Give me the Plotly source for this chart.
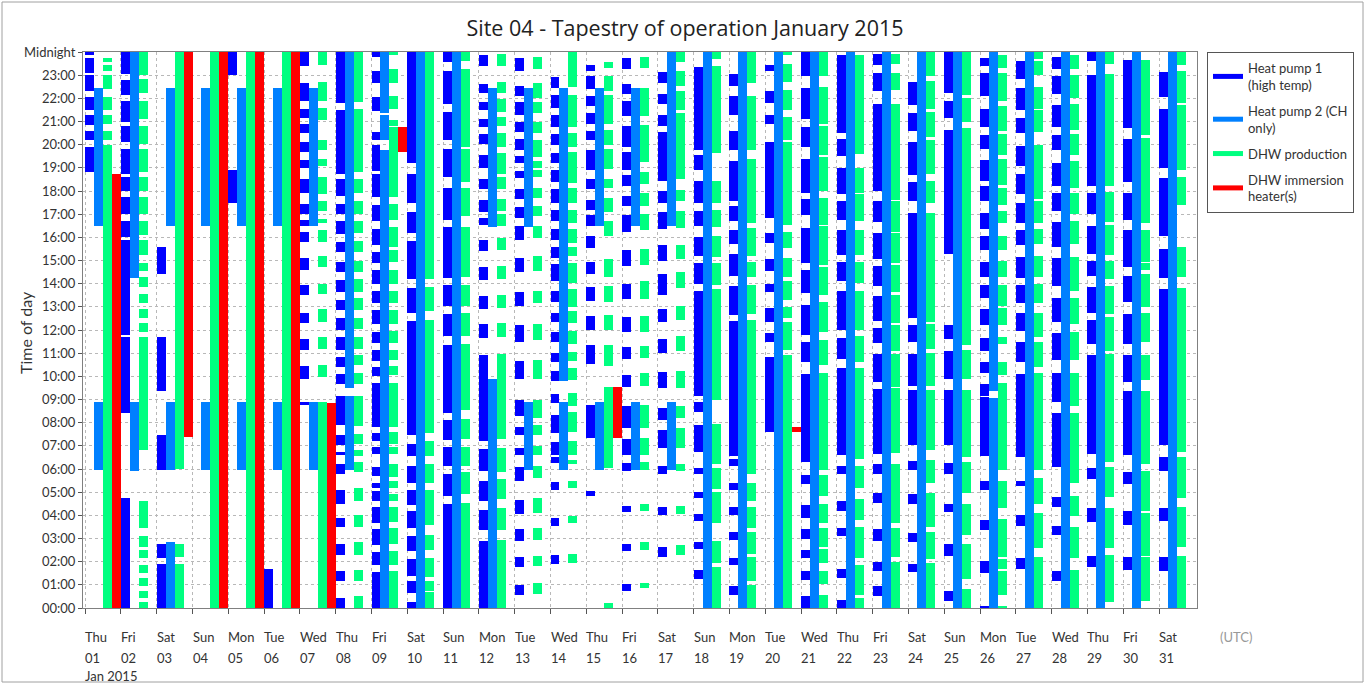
import plotly.graph_objects as go

# ---- operating periods per day (hours of the day, start/end) ----
days = list(range(1, 32))
weekdays = ["Thu", "Fri", "Sat", "Sun", "Mon", "Tue", "Wed"]
day_names = [weekdays[(d - 1) % 7] for d in days]
hour_ticks = list(range(25))
hour_labels = [f"{h:02d}:00" for h in range(24)] + ["Midnight"]

hp1_runs = [
    [[18.8, 19.9], [20.2, 20.6], [20.85, 21.3], [21.5, 22.05], [22.3, 23.0], [23.1, 23.76], [23.85, 24]],
    [[0, 4.75], [8.4, 11.7], [11.8, 15.9], [16.0, 16.7], [17.0, 17.75], [18.0, 18.6], [18.75, 19.8], [20.1, 20.8], [21.0, 21.9], [22.15, 22.8], [23.05, 24]],
    [[0, 1.9], [2.15, 2.75], [5.95, 7.45], [9.35, 11.7], [14.4, 15.6]],
    [],
    [[17.5, 18.9], [23.0, 24]],
    [[0, 1.7]],
    [[8.77, 8.88], [9.9, 10.45], [11.15, 11.6], [12.3, 12.75], [13.5, 13.95], [14.6, 15.1], [15.8, 16.25], [16.5, 16.75], [17.0, 17.45], [17.9, 18.5], [19.0, 19.35], [19.7, 20.1], [20.5, 20.9], [21.15, 21.55], [21.9, 22.65], [23.4, 24]],
    [[0, 0.45], [1.15, 1.6], [2.3, 2.75], [3.5, 3.9], [4.5, 5.1], [5.8, 6.2], [6.6, 6.75], [7.05, 7.45], [7.9, 9.15], [9.65, 10.1], [10.4, 10.85], [11.15, 11.7], [12.0, 12.5], [12.85, 13.3], [13.65, 14.15], [14.5, 14.95], [15.35, 15.8], [16.15, 16.7], [17.0, 17.45], [17.8, 18.5], [18.75, 21.5], [21.8, 24]],
    [[0, 1.55], [1.85, 2.4], [2.7, 3.4], [3.65, 4.35], [4.6, 5.05], [5.2, 5.4], [5.7, 6.1], [6.65, 6.95], [7.2, 7.55], [7.8, 9.7], [10.0, 10.4], [10.65, 11.15], [11.45, 11.9], [12.25, 12.85], [13.15, 13.7], [14.0, 14.6], [14.9, 15.35], [15.65, 16.35], [16.7, 17.4], [17.75, 18.75], [18.85, 20.0], [20.2, 20.55], [21.45, 22.05], [22.65, 23.2], [23.8, 24]],
    [[0, 0.25], [0.65, 1.15], [1.4, 2.1], [2.45, 3.1], [3.45, 4.2], [4.45, 5.1], [5.4, 6.15], [6.55, 7.1], [7.45, 12.4], [12.75, 13.8], [14.2, 15.85], [16.2, 17.1], [17.5, 18.75], [19.2, 24]],
    [[0, 4.5], [4.85, 5.8], [6.15, 6.95], [7.25, 8.1], [8.4, 11.35], [11.75, 12.7], [13.05, 13.95], [14.25, 16.45], [16.75, 18.15], [18.6, 19.8], [20.2, 21.4], [21.75, 23.2], [23.55, 24]],
    [[0, 2.9], [3.35, 4.25], [4.6, 5.5], [5.9, 6.85], [7.2, 10.9], [11.65, 12.25], [12.9, 13.45], [14.15, 14.7], [15.4, 15.9], [16.55, 16.85], [17.1, 17.6], [18.1, 18.5], [19.0, 19.55], [20.05, 20.45], [20.75, 21.1], [21.5, 21.85], [22.25, 22.6], [23.4, 23.85]],
    [[0.55, 1.0], [1.75, 2.2], [2.9, 3.4], [4.05, 4.65], [5.5, 6.1], [6.6, 6.9], [7.45, 7.8], [8.3, 9.0], [9.9, 10.65], [11.5, 12.2], [13.05, 13.65], [14.5, 15.1], [15.9, 16.5], [16.85, 17.3], [17.65, 18.1], [18.55, 18.85], [19.2, 19.5], [19.75, 20.25], [20.55, 21.0], [21.3, 21.85], [22.1, 22.55], [23.2, 23.75]],
    [[1.9, 2.3], [3.55, 3.9], [5.1, 5.45], [6.25, 6.5], [6.6, 7.15], [7.55, 8.35], [8.85, 9.25], [9.8, 10.25], [10.6, 11.0], [11.5, 11.9], [12.35, 12.75], [13.2, 13.7], [14.1, 14.85], [15.1, 15.6], [15.9, 16.35], [16.7, 17.2], [17.5, 18.1], [18.4, 18.9], [19.2, 19.65], [20.0, 20.45], [20.75, 21.3], [21.6, 22.15], [22.45, 22.9]],
    [[4.85, 5.05], [7.35, 8.75], [10.55, 11.35], [12.0, 12.6], [13.25, 13.85], [14.4, 14.95], [15.55, 16.05], [16.5, 16.95], [17.2, 17.6], [18.1, 18.5], [18.9, 19.75], [20.2, 20.6], [20.9, 21.35], [21.65, 22.1], [22.4, 22.95], [23.2, 23.45]],
    [[0.75, 1.05], [2.45, 2.75], [4.15, 4.4], [5.9, 6.25], [6.6, 7.3], [7.75, 8.7], [9.55, 10.05], [10.75, 11.25], [11.9, 12.55], [13.35, 14.0], [14.75, 15.45], [16.25, 16.95], [17.35, 17.8], [18.2, 18.7], [18.9, 19.7], [19.9, 20.8], [21.25, 21.9], [22.2, 22.6], [23.25, 23.75]],
    [[2.2, 2.65], [4.0, 4.35], [5.8, 6.15], [6.9, 7.7], [8.1, 8.65], [9.5, 10.2], [11.0, 11.6], [12.35, 12.9], [13.5, 14.4], [15.0, 15.65], [16.35, 17.1], [17.5, 18.0], [18.45, 20.55], [20.8, 21.3], [21.75, 22.2], [22.65, 23.15]],
    [[1.25, 1.65], [2.55, 2.85], [3.75, 4.05], [4.75, 5.0], [5.8, 6.05], [6.75, 7.9], [8.45, 8.9], [9.15, 13.7], [14.0, 14.9], [15.2, 16.0], [16.5, 17.15], [17.5, 18.45], [18.9, 19.55], [19.75, 23.35]],
    [[0.55, 0.95], [1.85, 2.15], [2.95, 3.3], [4.0, 4.35], [5.1, 5.4], [6.15, 6.45], [6.55, 12.4], [12.65, 13.9], [14.35, 15.3], [15.7, 16.3], [16.7, 17.35], [17.55, 19.3], [19.75, 20.6], [21.3, 22.1], [22.55, 23.05]],
    [[7.6, 10.85], [11.5, 11.85], [12.35, 12.95], [13.65, 14.0], [14.55, 15.05], [15.75, 16.2], [16.85, 20.1], [20.9, 21.3], [21.8, 22.3], [23.2, 23.45]],
    [[0, 0.5], [1.2, 1.6], [2.15, 2.5], [3.0, 3.4], [3.9, 4.45], [5.35, 5.75], [6.3, 10.1], [10.6, 11.5], [11.8, 13.1], [13.6, 14.6], [14.9, 16.4], [16.95, 17.65], [17.9, 19.4], [19.9, 20.75], [21.1, 22.45], [22.95, 24]],
    [[0, 0.35], [1.3, 1.7], [3.1, 3.45], [4.2, 4.6], [5.8, 6.15], [6.6, 10.35], [10.75, 11.65], [12.0, 13.7], [14.1, 14.95], [15.25, 16.3], [16.75, 17.55], [17.85, 19.0], [19.5, 20.25], [20.5, 23.85]],
    [[0.5, 0.95], [1.6, 2.0], [2.9, 3.4], [4.55, 4.95], [5.8, 6.2], [6.65, 9.45], [9.75, 10.95], [11.45, 12.1], [12.4, 13.45], [13.9, 14.75], [15.05, 16.2], [16.65, 17.55], [18.0, 21.75], [22.3, 23.1], [23.45, 23.9]],
    [[1.55, 1.9], [2.85, 3.25], [4.5, 4.9], [5.95, 6.35], [7.05, 9.4], [9.6, 10.95], [11.5, 12.2], [12.5, 17.05], [17.55, 18.4], [18.7, 20.1], [20.6, 21.35], [21.7, 22.7]],
    [[0.3, 0.75], [2.25, 2.75], [4.15, 4.5], [5.8, 6.25], [7.05, 9.4], [9.9, 11.1], [11.6, 12.2], [15.3, 20.65], [21.15, 21.9], [22.25, 24]],
    [[0, 0.08], [1.5, 2.05], [3.35, 3.8], [5.1, 5.5], [6.55, 9.1], [9.15, 9.65], [10.15, 10.6], [11.1, 11.65], [12.2, 12.9], [13.4, 13.95], [14.3, 14.95], [15.45, 16.05], [16.35, 17.05], [17.55, 18.2], [18.45, 19.35], [19.8, 20.4], [20.75, 21.55], [22.1, 23.1], [23.4, 23.75]],
    [[1.7, 2.15], [3.55, 4.0], [5.25, 5.5], [6.5, 10.1], [10.6, 11.5], [11.95, 12.75], [13.15, 13.95], [14.25, 15.15], [15.65, 16.3], [16.6, 17.5], [17.85, 18.75], [19.1, 19.95], [20.5, 21.15], [21.5, 22.45], [22.85, 23.6]],
    [[1.15, 1.6], [3.15, 3.55], [4.35, 4.8], [6.1, 8.4], [8.9, 10.15], [10.7, 11.85], [12.35, 13.4], [13.9, 15.1], [15.6, 16.65], [17.15, 17.9], [18.2, 19.2], [19.75, 20.4], [20.75, 21.7], [22.2, 22.95], [23.25, 23.8]],
    [[1.75, 2.25], [3.7, 4.3], [5.55, 6.05], [6.65, 10.9], [11.4, 12.45], [12.75, 13.85], [14.35, 15.0], [15.3, 16.5], [17.0, 17.9], [18.2, 23.0], [23.6, 24]],
    [[1.65, 2.2], [3.6, 4.2], [5.35, 5.85], [6.6, 9.35], [9.75, 10.9], [11.4, 12.7], [13.2, 14.35], [14.7, 16.3], [16.75, 17.9], [18.4, 20.25], [20.7, 23.65]],
    [[1.6, 2.2], [3.75, 4.3], [5.9, 6.5], [7.05, 13.75], [14.25, 15.5], [16.05, 18.55], [19.0, 21.55], [22.05, 23.15]],
]

hp2_runs = [
    [[5.97, 8.9], [16.5, 22.45]],
    [[5.93, 8.9], [14.25, 24]],
    [[0, 2.85], [5.97, 8.9], [16.5, 22.45]],
    [[5.97, 8.9], [16.5, 22.45]],
    [[5.97, 8.9], [16.5, 22.45]],
    [[5.97, 8.9], [16.5, 22.45]],
    [[5.97, 8.9], [16.5, 22.45]],
    [[5.97, 9.15], [9.5, 24]],
    [[0, 19.75], [20.2, 21.3], [21.35, 24]],
    [[0, 24]],
    [[0, 24]],
    [[0, 9.9], [16.45, 22.45]],
    [[5.95, 8.9], [16.45, 22.45]],
    [[5.95, 8.9], [9.8, 22.45]],
    [[5.97, 8.9], [16.5, 22.45]],
    [[5.97, 8.9], [16.5, 22.45]],
    [[5.97, 8.9], [16.5, 24]],
    [[0, 24]],
    [[0, 24]],
    [[0, 24]],
    [[0, 24]],
    [[0, 24]],
    [[0, 24]],
    [[0, 24]],
    [[0, 24]],
    [[0, 9.05], [9.35, 24]],
    [[0, 24]],
    [[0, 24]],
    [[0, 24]],
    [[0, 24]],
    [[0, 24]],
]

dhw_runs = [
    [[0, 19.97], [20.2, 20.6], [20.9, 21.3], [21.5, 22.05], [22.4, 23.0], [23.2, 23.45], [23.55, 23.76]],
    [[0, 0.25], [0.45, 0.75], [0.95, 1.3], [1.5, 1.85], [2.15, 2.5], [2.65, 3.1], [3.45, 4.6], [6.8, 11.7], [11.9, 12.3], [12.5, 12.9], [13.15, 13.55], [13.85, 14.3], [14.55, 14.9], [15.25, 15.9], [16.1, 16.7], [17.0, 17.75], [18.0, 18.6], [18.8, 19.8], [20.05, 20.8], [21.1, 21.9], [22.25, 22.85], [23.0, 24]],
    [[0, 1.9], [2.2, 2.75], [6.0, 24]],
    [[0, 24]],
    [[0, 24]],
    [[0, 24]],
    [[0, 8.9], [9.95, 10.5], [11.2, 11.7], [12.35, 12.9], [13.55, 14.0], [14.7, 15.2], [15.8, 16.3], [16.6, 16.8], [17.15, 17.55], [17.85, 18.6], [19.1, 19.4], [19.75, 20.2], [21.05, 21.6], [21.9, 22.7], [23.45, 24]],
    [[0, 0.5], [1.15, 1.65], [2.3, 2.85], [3.5, 4.0], [4.6, 5.2], [5.85, 6.3], [6.55, 6.8], [7.1, 7.5], [7.85, 9.15], [9.65, 10.15], [10.5, 10.9], [11.2, 11.7], [12.05, 12.5], [12.85, 13.4], [13.65, 14.2], [14.5, 15.0], [15.35, 15.85], [16.2, 16.7], [17.0, 17.55], [17.9, 18.5], [18.8, 21.55], [21.85, 24]],
    [[0, 1.6], [1.85, 2.45], [2.75, 3.45], [3.7, 4.35], [4.6, 4.9], [5.2, 5.5], [5.65, 6.2], [6.65, 6.95], [7.1, 7.6], [7.8, 9.7], [10.05, 10.45], [10.7, 11.15], [11.45, 11.95], [12.25, 12.85], [13.15, 13.7], [14.0, 14.6], [14.95, 15.45], [15.6, 16.45], [16.75, 17.45], [17.75, 20.75], [20.8, 21.05], [21.55, 22.1], [22.65, 23.25], [23.85, 24]],
    [[0, 0.7], [0.75, 1.15], [1.35, 2.15], [2.5, 3.15], [3.6, 5.1], [5.4, 6.2], [6.55, 7.2], [7.55, 12.45], [12.8, 13.85], [14.2, 24]],
    [[0, 4.55], [4.9, 5.85], [6.15, 6.95], [7.3, 8.15], [8.55, 11.4], [11.75, 12.75], [13.05, 13.95], [14.3, 16.45], [16.9, 18.15], [18.4, 19.8], [19.9, 23.25], [23.6, 24]],
    [[0, 2.95], [3.35, 4.3], [4.7, 5.55], [5.85, 6.9], [7.3, 10.95], [11.7, 12.3], [12.95, 13.5], [14.2, 14.75], [15.45, 15.95], [16.5, 17.0], [17.15, 17.65], [18.1, 18.6], [18.75, 19.65], [19.9, 20.5], [20.8, 21.2], [21.4, 21.95], [22.25, 22.7], [23.4, 23.9]],
    [[0.6, 1.1], [1.8, 2.25], [2.95, 3.45], [4.1, 4.75], [5.6, 6.15], [6.6, 7.0], [7.45, 7.9], [8.2, 9.0], [9.9, 10.7], [11.55, 12.25], [13.15, 13.7], [14.55, 15.2], [15.95, 16.5], [16.9, 17.35], [17.7, 18.15], [18.6, 18.9], [19.0, 19.3], [19.45, 20.2], [20.5, 21.0], [21.35, 21.85], [22.0, 22.65], [23.25, 23.8]],
    [[1.95, 2.35], [3.65, 3.95], [5.2, 5.5], [6.2, 6.4], [6.6, 7.2], [7.6, 8.45], [8.7, 9.3], [9.85, 10.35], [10.65, 11.05], [11.4, 11.95], [12.3, 12.8], [13.0, 13.75], [14.05, 14.9], [15.2, 15.6], [15.75, 16.35], [16.6, 17.2], [17.5, 18.15], [18.35, 19.7], [19.9, 20.5], [20.75, 22.15], [22.5, 24]],
    [[0, 0.2], [6.05, 9.55], [10.45, 11.35], [12.0, 12.65], [13.2, 13.9], [14.3, 15.05], [16.05, 16.7], [17.1, 17.7], [18.15, 18.5], [18.95, 19.8], [20.0, 20.65], [20.9, 22.15], [22.3, 22.95], [23.3, 23.55]],
    [[0.85, 1.1], [2.5, 2.85], [4.2, 4.5], [5.95, 6.3], [6.6, 7.35], [7.75, 8.75], [9.6, 10.15], [10.8, 11.3], [11.9, 12.6], [13.35, 14.1], [14.8, 15.5], [16.3, 17.0], [17.35, 17.9], [18.3, 18.8], [19.25, 20.85], [21.25, 22.45], [23.3, 23.8]],
    [[2.3, 2.7], [4.05, 4.4], [5.9, 6.2], [6.9, 7.75], [8.2, 8.7], [9.5, 10.25], [11.1, 11.75], [12.45, 13.05], [13.8, 14.5], [15.05, 15.65], [16.4, 17.15], [17.55, 18.05], [18.5, 21.35], [21.5, 22.3], [22.55, 23.2], [23.55, 24]],
    [[0, 1.75], [1.95, 2.9], [3.65, 5.0], [5.15, 6.05], [6.2, 7.95], [9.0, 13.75], [13.95, 14.9], [15.15, 16.05], [16.45, 17.2], [17.5, 18.45], [19.65, 23.4], [23.7, 24]],
    [[0, 1.0], [1.15, 2.2], [2.35, 3.3], [3.45, 4.35], [4.6, 5.4], [5.8, 12.45], [12.7, 13.95], [14.3, 14.95], [15.2, 16.4], [16.6, 19.4], [19.75, 22.1], [22.65, 24]],
    [[0, 10.9], [11.15, 12.35], [12.5, 13.0], [13.3, 14.1], [14.3, 15.1], [15.55, 16.25], [16.55, 20.1], [20.2, 21.2], [21.5, 22.35], [22.7, 23.5], [23.85, 24]],
    [[0, 0.55], [1.05, 1.6], [1.95, 2.55], [2.65, 3.45], [3.65, 4.5], [4.85, 5.75], [5.95, 10.15], [10.5, 11.55], [11.9, 13.2], [13.5, 14.7], [14.8, 16.5], [16.55, 17.7], [18.0, 19.45], [19.55, 20.8], [20.9, 22.5], [22.95, 24]],
    [[0, 0.45], [0.55, 1.85], [2.15, 3.5], [3.8, 4.7], [5.2, 6.15], [6.45, 10.35], [10.6, 11.75], [12.0, 13.7], [14.05, 14.95], [15.25, 16.3], [16.7, 17.85], [17.9, 19.0], [19.6, 23.85]],
    [[0, 2.0], [2.2, 3.45], [3.65, 6.2], [6.7, 9.5], [9.55, 10.95], [11.1, 12.2], [12.3, 13.5], [13.65, 14.8], [14.9, 16.2], [16.25, 17.55], [17.6, 21.75], [22.35, 23.1], [23.5, 23.9]],
    [[0, 1.95], [2.1, 3.3], [3.5, 4.95], [5.4, 6.4], [6.8, 9.4], [9.6, 11.0], [11.2, 12.25], [12.35, 17.05], [17.5, 18.45], [18.75, 20.2], [20.35, 21.4], [21.55, 22.75], [22.95, 24]],
    [[0, 0.8], [1.25, 2.75], [3.15, 4.5], [4.95, 6.3], [6.5, 9.4], [9.9, 11.15], [11.35, 20.7], [21.0, 22.0], [22.15, 24]],
    [[0, 0.08], [0.55, 1.6], [1.7, 2.1], [2.2, 3.85], [4.3, 5.5], [5.95, 9.7], [10.05, 10.6], [11.4, 11.7], [12.2, 12.95], [13.05, 13.95], [14.3, 15.0], [15.45, 16.05], [16.6, 17.15], [17.4, 18.15], [18.25, 19.4], [19.55, 20.45], [20.6, 21.65], [21.9, 23.1], [23.3, 23.85]],
    [[0, 2.2], [2.6, 4.1], [4.5, 5.6], [5.95, 10.15], [10.4, 11.5], [11.7, 12.75], [13.15, 14.0], [14.3, 15.2], [15.7, 16.35], [16.6, 17.55], [17.65, 20.0], [20.55, 21.5], [21.55, 22.5], [23.0, 23.6], [23.7, 24]],
    [[0, 1.65], [2.15, 3.5], [3.95, 4.85], [5.4, 8.4], [8.7, 10.15], [10.7, 11.9], [12.25, 13.4], [13.7, 15.15], [15.7, 16.7], [17.0, 17.9], [18.15, 19.3], [19.55, 20.45], [20.65, 21.75], [22.0, 23.0], [23.25, 23.85]],
    [[0.25, 2.3], [2.6, 4.3], [4.8, 6.1], [6.3, 10.95], [11.1, 12.55], [12.7, 13.9], [14.2, 15.0], [15.25, 16.55], [16.65, 17.95], [18.2, 23.05], [23.5, 24]],
    [[0.3, 2.2], [2.25, 4.1], [4.2, 5.9], [6.2, 9.35], [9.85, 10.9], [11.5, 12.75], [13.0, 14.4], [14.6, 14.9], [14.95, 16.3], [16.6, 20.3], [20.4, 23.65]],
    [[0, 2.25], [2.65, 4.35], [4.75, 6.5], [6.75, 13.8], [14.3, 15.6], [17.4, 18.6], [18.9, 21.7], [21.8, 23.2], [23.45, 24]],
]

imm_runs = [[] for _ in days]
imm_runs[0] = [[0, 18.75]]
imm_runs[2] = [[7.4, 24]]
imm_runs[3] = [[0, 24]]
imm_runs[4] = [[0, 24]]
imm_runs[5] = [[0, 24]]
imm_runs[6] = [[0, 8.85]]
imm_runs[8] = [[19.7, 20.75]]
imm_runs[14] = [[7.35, 9.55]]
imm_runs[19] = [[7.6, 7.8]]

series = [
    ("Heat pump 1<br>(high temp)", "#0000ff", hp1_runs),
    ("Heat pump 2 (CH<br>only)", "#0080ff", hp2_runs),
    ("DHW production", "#00ff80", dhw_runs),
    ("DHW immersion<br>heater(s)", "#ff0000", imm_runs),
]

SLOT = 0.25  # each day is split into four equal columns, one per series

fig = go.Figure()
for k, (name, color, runs) in enumerate(series):
    xs, bases, lengths = [], [], []
    for d, day_runs in enumerate(runs):
        for start, end in day_runs:
            xs.append(d + k * SLOT + SLOT / 2)
            bases.append(start)
            lengths.append(end - start)
    fig.add_trace(go.Bar(
        x=xs, y=lengths, base=bases, width=SLOT,
        marker=dict(color=color, line=dict(width=0)),
        showlegend=False, hoverinfo="skip",
    ))

# legend entries drawn as short lines
for k, (name, color, _) in enumerate(series):
    fig.add_trace(go.Scatter(
        x=[None], y=[None], mode="lines", name=name,
        line=dict(color=color, width=5), legendgroup=f"g{k}",
    ))

FONT = "Lato"
TITLE_FONT = "Open Sans"

# pixel helpers for the plot frame (plot area 83..1197 x 52..608)
def px_x(px):
    return (px - 83) / 1114

def px_y(py):
    return (608 - py) / 556

annotations = []
for i, d in enumerate(days):
    annotations.append(dict(x=i, y=px_y(637), xref="x", yref="paper", text=day_names[i],
                            showarrow=False, xanchor="left", yanchor="middle", xshift=-2,
                            font=dict(size=13, color="#333333", family=FONT)))
    annotations.append(dict(x=i, y=px_y(658), xref="x", yref="paper", text=f"{d:02d}",
                            showarrow=False, xanchor="left", yanchor="middle", xshift=-2,
                            font=dict(size=13, color="#333333", family=FONT)))
annotations.append(dict(x=0, y=px_y(676), xref="x", yref="paper", text="Jan 2015",
                        showarrow=False, xanchor="left", yanchor="middle", xshift=-2,
                        font=dict(size=13, color="#333333", family=FONT)))
annotations.append(dict(x=px_x(1218), y=px_y(637), xref="paper", yref="paper", text="(UTC)",
                        showarrow=False, xanchor="left", yanchor="middle",
                        font=dict(size=13, color="#999999", family=FONT)))
annotations.append(dict(x=px_x(25), y=px_y(333), xref="paper", yref="paper", text="Time of day",
                        showarrow=False, textangle=-90, xanchor="center", yanchor="middle",
                        font=dict(size=16, color="#333333", family=FONT)))

fig.update_layout(
    width=1370, height=684,
    margin=dict(l=83, r=173, t=52, b=76, autoexpand=False),
    paper_bgcolor="white", plot_bgcolor="white",
    barmode="overlay", bargap=0,
    title=dict(text="Site 04 - Tapestry of operation January 2015",
               x=0.5, xref="container", y=1 - 28 / 684, yref="container",
               xanchor="center", yanchor="middle",
               font=dict(size=21.5, color="#222222", family=TITLE_FONT)),
    font=dict(family=FONT, size=13, color="#333333"),
    legend=dict(x=px_x(1207), y=1, xanchor="left", yanchor="top",
                bordercolor="#555555", borderwidth=1, bgcolor="white",
                font=dict(size=13, color="#333333", family=FONT),
                tracegroupgap=6, itemwidth=30),
    annotations=annotations,
    shapes=[dict(type="rect", xref="paper", yref="paper",
                 x0=px_x(2), x1=px_x(1363), y0=px_y(682), y1=px_y(2),
                 line=dict(color="#a0a0a0", width=1), layer="below")],
)

fig.update_xaxes(
    range=[-0.06, 31.06], tickvals=list(range(31)), showticklabels=False,
    ticks="outside", ticklen=5, tickcolor="#555555",
    showgrid=True, gridcolor="#b8b8b8", griddash="dot", gridwidth=1,
    showline=True, linecolor="#808080", mirror=True, zeroline=False,
    automargin=False,
)
fig.update_yaxes(
    range=[0, 24], tickvals=hour_ticks, ticktext=hour_labels,
    ticks="outside", ticklen=4, tickcolor="#555555",
    showgrid=True, gridcolor="#b8b8b8", griddash="dot", gridwidth=1,
    showline=True, linecolor="#808080", mirror=True, zeroline=False,
    tickfont=dict(size=13, color="#333333", family=FONT),
    automargin=False,
)

fig.write_html("out.html")
